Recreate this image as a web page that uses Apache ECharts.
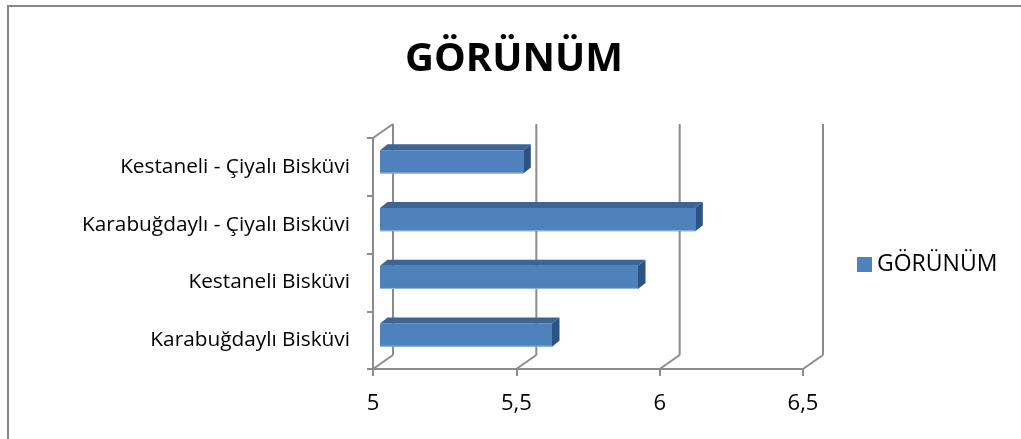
<!DOCTYPE html>
<html>
<head>
<meta charset="utf-8">
<script src="https://cdn.jsdelivr.net/npm/echarts@6/dist/echarts.min.js"></script>
<style>
html,body{margin:0;padding:0;background:#fff;}
#chart{width:1021px;height:439px;}
</style>
</head>
<body>
<div id="chart"></div>
<script>
const categories = ['Karabuğdaylı Bisküvi', 'Kestaneli Bisküvi', 'Karabuğdaylı - Çiyalı Bisküvi', 'Kestaneli - Çiyalı Bisküvi'];
const values = [5.6, 5.9, 6.1, 5.5];
const xTicks = [5, 5.5, 6, 6.5];
const seriesName = 'GÖRÜNÜM';
const titleText = 'GÖRÜNÜM';

const FONT = 'Open Sans';
const LINE = '#8c8c8c';
const DX = 20, DY = -14;          // depth of the 3D frame
const BOX = 7, BOY = -5;          // bar front-face offset inside the frame
const BDX = 7.5, BDY = -6;        // bar depth

const chart = echarts.init(document.getElementById('chart'), null, {renderer: 'canvas'});

function renderFrame(params, api) {
  const cs = params.coordSys;
  const v = api.value(0);
  const bx = api.coord([v, 0])[0];
  const top = cs.y, bottom = cs.y + cs.height;
  const st = {stroke: LINE, lineWidth: 2, fill: null};
  const children = [
    {type: 'line', shape: {x1: bx + DX, y1: top + DY, x2: bx + DX, y2: bottom + DY}, style: st},
    {type: 'line', shape: {x1: bx, y1: bottom, x2: bx + DX, y2: bottom + DY}, style: st}
  ];
  if (params.dataIndex === 0) {
    children.push({type: 'line', shape: {x1: bx, y1: top, x2: bx + DX, y2: top + DY}, style: st});
  }
  return {type: 'group', children: children};
}

function renderBar(params, api) {
  const v = api.value(0), c = api.value(1);
  const p0 = api.coord([xTicks[0], c]);
  const p1 = api.coord([v, c]);
  const band = api.size([0, 1])[1];
  const h = band * 0.4;
  const x0 = p0[0] + BOX, x1 = p1[0] + BOX;
  const yc = p1[1] + BOY;
  const yt = yc - h / 2, yb = yc + h / 2;
  return {
    type: 'group',
    children: [
      {type: 'rect', shape: {x: x0, y: yt, width: x1 - x0, height: h}, style: {fill: '#4F81BD'}},
      {type: 'line', shape: {x1: x0, y1: yb - 0.5, x2: x1, y2: yb - 0.5}, style: {stroke: '#9DB5D8', lineWidth: 1}},
      {type: 'polygon', shape: {points: [[x0, yt], [x1, yt], [x1 + BDX, yt + BDY], [x0 + BDX, yt + BDY]]}, style: {fill: '#3C6595'}},
      {type: 'polygon', shape: {points: [[x1, yt], [x1 + BDX, yt + BDY], [x1 + BDX, yb + BDY], [x1, yb]]}, style: {fill: '#2E5383'}}
    ]
  };
}

const option = {
  backgroundColor: '#fff',
  animation: false,
  title: {
    text: titleText,
    left: 405,
    top: 40,
    padding: 0,
    textStyle: {fontFamily: FONT, fontSize: 40, fontWeight: 'bold', color: '#000'}
  },
  legend: {
    data: [{name: seriesName, icon: 'rect'}],
    left: 857,
    top: 253,
    padding: 0,
    itemWidth: 15,
    itemHeight: 15,
    selectedMode: false,
    textStyle: {fontFamily: FONT, fontSize: 23, color: '#000'}
  },
  graphic: [{
    type: 'rect',
    shape: {x: 8, y: 6, width: 1100, height: 600},
    style: {fill: null, stroke: '#868686', lineWidth: 2},
    silent: true
  }],
  grid: {left: 373, top: 138, width: 430, height: 231},
  xAxis: {
    type: 'value',
    min: 5, max: 6.5, interval: 0.5,
    splitLine: {show: false},
    axisLine: {show: true, lineStyle: {color: LINE, width: 2}},
    axisTick: {show: true, length: 7, lineStyle: {color: LINE, width: 2}},
    axisLabel: {
      margin: 24,
      fontFamily: FONT, fontSize: 22, color: '#000',
      formatter: v => String(v).replace('.', ',')
    }
  },
  yAxis: {
    type: 'category',
    data: categories,
    axisLine: {show: true, lineStyle: {color: LINE, width: 2}},
    axisTick: {show: true, length: 6, lineStyle: {color: LINE, width: 2}},
    axisLabel: {margin: 23, fontFamily: FONT, fontSize: 20.8, color: '#000'},
    splitLine: {show: false}
  },
  series: [
    {
      name: 'frame',
      type: 'custom',
      renderItem: renderFrame,
      data: xTicks.map(v => [v, 0]),
      encode: {x: 0, y: 1},
      silent: true,
      z: 1
    },
    {
      name: seriesName,
      type: 'custom',
      renderItem: renderBar,
      data: values.map((v, i) => [v, i]),
      encode: {x: 0, y: 1},
      itemStyle: {color: '#4F81BD'},
      z: 5
    }
  ]
};
chart.setOption(option);
</script>
</body>
</html>
